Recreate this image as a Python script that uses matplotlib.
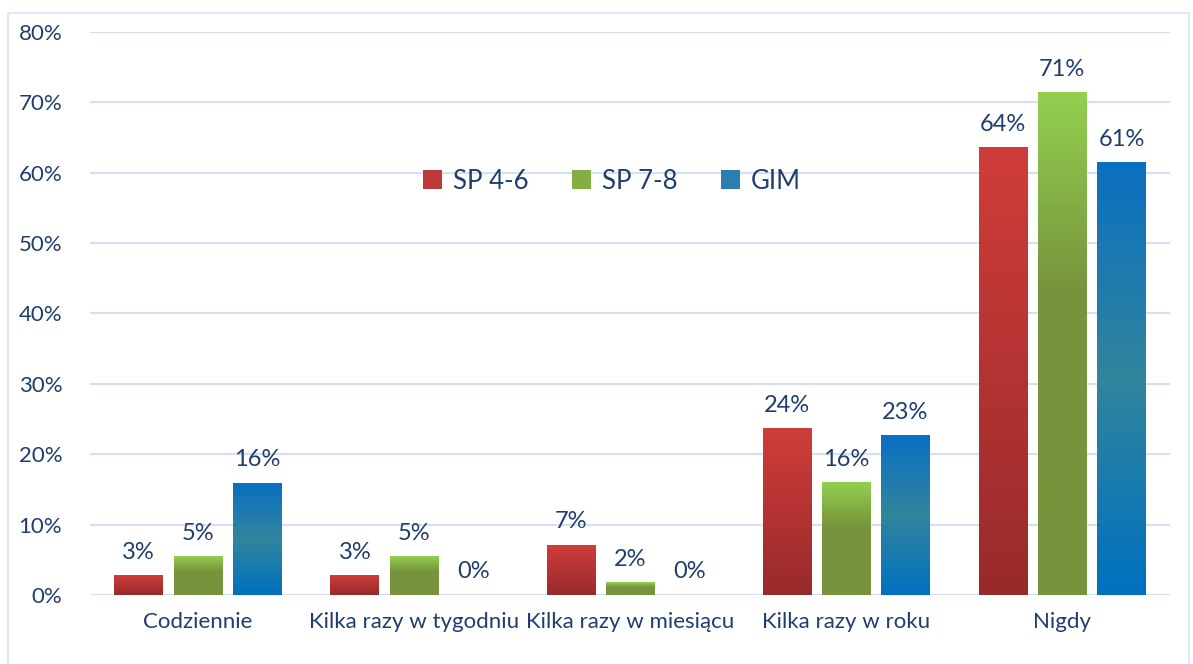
"""Grouped bar chart: frequency by school level."""

import numpy as np
import matplotlib.pyplot as plt
from matplotlib.colors import LinearSegmentedColormap
from matplotlib.patches import Patch, Rectangle

categories = ['Codziennie', 'Kilka razy w tygodniu', 'Kilka razy w miesiącu',
              'Kilka razy w roku', 'Nigdy']
series_names = ['SP 4-6', 'SP 7-8', 'GIM']
sp46 = [2.8, 2.8, 7.1, 23.6, 63.6]
sp78 = [5.4, 5.4, 1.8, 16.0, 71.4]
gim = [15.9, 0.0, 0.0, 22.7, 61.4]

TEXT = '#1f3d6e'
GRID = '#d6e0f0'

# top -> bottom gradient colours
gradients = [
    LinearSegmentedColormap.from_list('r', [(0, '#cf3d3a'), (1, '#982a2b')]),
    LinearSegmentedColormap.from_list('g', [(0, '#93d050'), (0.4, '#77933c'), (1, '#77933c')]),
    LinearSegmentedColormap.from_list('b', [(0, '#0b6fc2'), (0.5, '#31859c'), (1, '#0070c0')]),
]
legend_colors = ['#c0393a', '#84ad44', '#2a7fae']

plt.rcParams['font.family'] = ['Lato', 'DejaVu Sans']

fig = plt.figure(figsize=(11.93, 6.64), dpi=100)
ax = fig.add_axes([0.0754, 0.104, 0.9056, 0.848])

fig.patches.append(Rectangle((0.007, -0.01), 0.99, 0.99, transform=fig.transFigure,
                             fill=False, edgecolor='#d9e2f3', linewidth=1.2))

x = np.arange(len(categories))
width = 0.226
offset = 0.274
grad = np.linspace(0, 1, 256).reshape(-1, 1)

for i, vals in enumerate([sp46, sp78, gim]):
    pos = x + (i - 1) * offset
    bars = ax.bar(pos, vals, width, color='none', edgecolor='none', zorder=3)
    for bar, v in zip(bars, vals):
        if v > 0:
            x0 = bar.get_x()
            ax.imshow(grad, cmap=gradients[i], aspect='auto', zorder=3,
                      extent=(x0, x0 + bar.get_width(), 0, v), origin='upper')
        ax.text(bar.get_x() + bar.get_width() / 2, v + 1.8, f'{round(v)}%',
                ha='center', va='bottom', fontsize=17, color=TEXT, zorder=4)

ax.set_xlim(-0.5, len(categories) - 0.5)
ax.set_ylim(0, 80)
ax.set_yticks(range(0, 81, 10))
ax.set_yticklabels([f'{t}%' for t in range(0, 81, 10)])
ax.set_xticks(x)
ax.set_xticklabels(categories)
ax.tick_params(axis='both', length=0, labelsize=16, colors=TEXT)
ax.tick_params(axis='x', pad=12)
ax.tick_params(axis='y', pad=20)
for s in ax.spines.values():
    s.set_visible(False)
ax.grid(axis='y', color=GRID, linewidth=1.5, zorder=0)
ax.set_axisbelow(True)

handles = [Patch(facecolor=c, edgecolor='none') for c in legend_colors]
ax.legend(handles, series_names, loc='center', bbox_to_anchor=(0.483, 0.735),
          ncol=3, frameon=False, fontsize=18.5, labelcolor=TEXT,
          handlelength=0.75, handleheight=0.75, handletextpad=0.4, columnspacing=1.7)

fig.savefig('out.png', dpi=100)
